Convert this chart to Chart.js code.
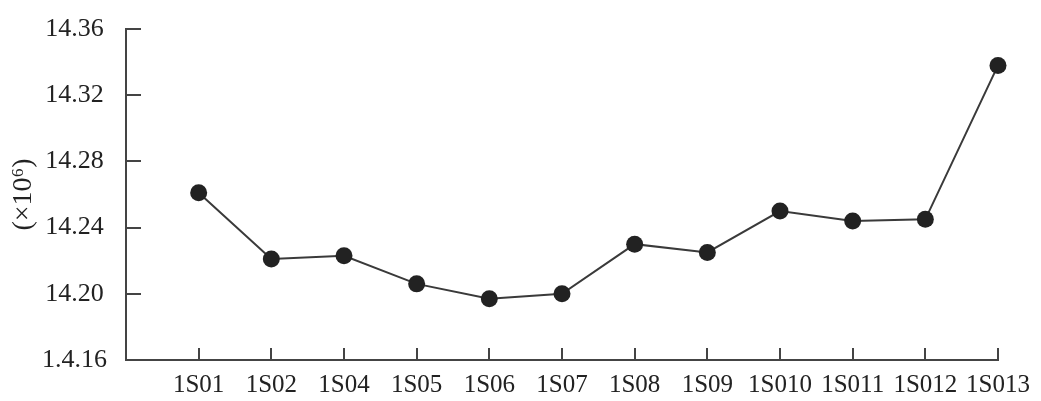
<!DOCTYPE html>
<html>
<head>
<meta charset="utf-8">
<script src="https://cdn.jsdelivr.net/npm/chart.js@4/dist/chart.umd.min.js"></script>
<style>
  html, body { margin: 0; padding: 0; background: #fff; overflow: hidden; }
  #wrap { width: 1041px; height: 401px; }
</style>
</head>
<body>
<div id="wrap"><canvas id="lineChart"></canvas></div>
<script>
// Samples along the x axis
const categories = ["1S01", "1S02", "1S04", "1S05", "1S06", "1S07",
  "1S08", "1S09", "1S010", "1S011", "1S012", "1S013"];

// Values (x10^6)
const values = [14.261, 14.221, 14.223, 14.206, 14.197, 14.200,
  14.230, 14.225, 14.250, 14.244, 14.245, 14.338];

// Y tick labels as printed (the bottom one has the typo of the original)
const yTickLabels = ["1.4.16", "14.20", "14.24", "14.28", "14.32", "14.36"];

const axisColor = "#444";
const inkColor = "#222";
const serif = "'Liberation Serif', 'DejaVu Serif', serif";

const points = values.map((v, i) => ({ x: i + 1, y: v }));

// Tick marks that point into the plot, placed from the scales' own ticks
const innerTicks = {
  id: "innerTicks",
  afterDraw(chart) {
    const c = chart.ctx;
    const xs = chart.scales.x;
    const ys = chart.scales.y;
    c.save();
    c.strokeStyle = axisColor;
    c.lineWidth = 2;
    c.beginPath();
    xs.ticks.forEach((t) => {
      if (t.value === 0) return;
      const px = Math.round(xs.getPixelForValue(t.value));
      c.moveTo(px, xs.top);
      c.lineTo(px, xs.top - 12);
    });
    ys.ticks.forEach((t) => {
      const py = Math.round(ys.getPixelForValue(t.value));
      c.moveTo(ys.right, py);
      c.lineTo(ys.right + 15, py);
    });
    c.stroke();
    c.restore();
  },
};

const ctx = document.getElementById("lineChart");
new Chart(ctx.getContext("2d"), {
  type: "line",
  data: {
    datasets: [
      {
        data: points,
        borderColor: "#3a3a3a",
        borderWidth: 2,
        backgroundColor: inkColor,
        pointBackgroundColor: inkColor,
        pointBorderColor: inkColor,
        pointRadius: 8.5,
        pointBorderWidth: 0,
        tension: 0,
        fill: false,
        clip: false,
      },
    ],
  },
  options: {
    responsive: true,
    maintainAspectRatio: false,
    animation: false,
    layout: {
      padding: { left: 4, right: 43, top: 29, bottom: -9 },
    },
    plugins: {
      legend: { display: false },
      tooltip: { enabled: false },
    },
    scales: {
      x: {
        type: "linear",
        min: 0,
        max: 12,
        border: { display: true, color: axisColor, width: 2 },
        grid: { drawOnChartArea: false, drawTicks: false },
        ticks: {
          stepSize: 1,
          autoSkip: false,
          maxRotation: 0,
          padding: 10,
          color: inkColor,
          font: { family: serif, size: 25, lineHeight: 1.2 },
          callback: (value) => categories[value - 1] || "",
        },
      },
      y: {
        type: "linear",
        min: 14.16,
        max: 14.36,
        border: { display: true, color: axisColor, width: 2 },
        grid: { drawOnChartArea: false, drawTicks: false },
        ticks: {
          stepSize: 0.04,
          padding: 19,
          crossAlign: "center",
          color: inkColor,
          font: { family: serif, size: 26, lineHeight: 0.75 },
          callback: (value, index) => yTickLabels[index],
        },
        title: {
          display: true,
          text: "(×10⁶)",
          color: inkColor,
          font: { family: serif, size: 28, lineHeight: 1 },
          padding: { top: 6, bottom: -15 },
        },
      },
    },
  },
  plugins: [innerTicks],
});
</script>
</body>
</html>
